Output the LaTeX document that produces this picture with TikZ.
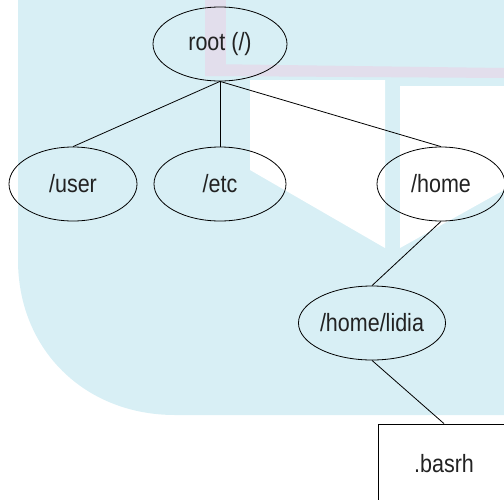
\documentclass[tikz,border=0pt]{standalone}
\usepackage{fontspec}
\setmainfont[FakeStretch=0.86]{Liberation Sans}
\usetikzlibrary{shapes.geometric}
\definecolor{wmcyan}{RGB}{216,239,245}
\definecolor{wmpink}{RGB}{226,222,236}
\definecolor{txt}{RGB}{34,34,34}
\tikzset{
  dir/.style={ellipse, draw=black, line width=0.8pt, inner sep=0pt, font=\fontsize{25}{27}\selectfont, text=txt},
  filebox/.style={rectangle, draw=black, line width=0.8pt, inner sep=0pt, minimum width=132pt, minimum height=80pt, font=\fontsize{25}{27}\selectfont, text=txt},
  link/.style={draw=black, line width=0.8pt}
}
\begin{document}
\begin{tikzpicture}[x=1pt,y=-1pt]
\useasboundingbox (0,0) rectangle (504,499);
% watermark background
\fill[wmcyan] (18,0) -- (504,0) -- (504,415) -- (175,415) .. controls (85,415) and (18,350) .. (18,260) -- cycle;
\fill[wmpink] (205,0) rectangle (226,76);
\fill[wmpink] (205,64) -- (504,68) -- (504,78) -- (205,76) -- cycle;
\fill[white] (250,80) -- (385,80) -- (385,248) -- (250,170) -- cycle;
\fill[white] (400,86) -- (504,86) -- (504,190) -- (400,248) -- cycle;
% nodes
\node[dir, minimum width=134pt, minimum height=74pt] (root) at (220,44) {root (/)};
\node[dir, minimum width=128pt, minimum height=74pt] (user) at (73,184) {/user};
\node[dir, minimum width=132pt, minimum height=74pt] (etc) at (220,184) {/etc};
\node[dir, minimum width=128pt, minimum height=74pt] (home) at (441,184) {/home};
\node[dir, minimum width=136pt, minimum height=74pt] (lidia) at (372,323) {/home/lidia};
\node[filebox] (bash) at (444,464) {.basrh};
% connectors
\draw[link] (root.south) -- (user.north);
\draw[link] (root.south) -- (etc.north);
\draw[link] (root.south) -- (home.north);
\draw[link] (home.south) -- (lidia.north);
\draw[link] (lidia.south) -- (bash.north);
\end{tikzpicture}
\end{document}
